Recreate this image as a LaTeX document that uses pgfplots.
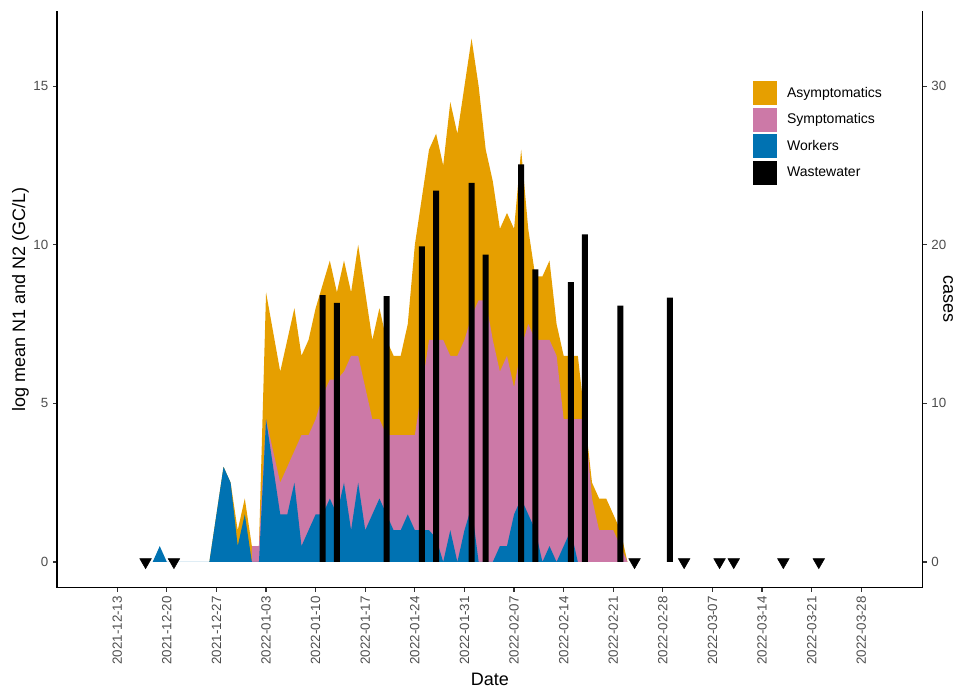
\documentclass[border=0pt]{standalone}
\usepackage{fontspec}
\setmainfont{Liberation Sans}
\usepackage{pgfplots}
\pgfplotsset{compat=1.18}
\definecolor{asym}{HTML}{E69F00}
\definecolor{symp}{HTML}{CC79A7}
\definecolor{work}{HTML}{0072B2}
\definecolor{grey30}{HTML}{4D4D4D}
\definecolor{grey20}{HTML}{333333}
\begin{document}
\begin{tikzpicture}
\path[use as bounding box] (0,0) rectangle (717.75pt,517.5pt);
\begin{axis}[
  at={(42.75pt,76.875pt)}, anchor=south west,
  scale only axis, width=649.3pt, height=432.4pt,
  xmin=-8.5, xmax=113.67, ymin=-0.805, ymax=17.37,
  axis x line*=bottom, axis y line*=left,
  axis line style={-, black, line width=0.9pt},
  tick align=outside, major tick length=3pt,
  tick style={grey20, line width=0.9pt},
  xtick={0,7,...,105},
  xticklabels={2021-12-13,2021-12-20,2021-12-27,2022-01-03,2022-01-10,2022-01-17,2022-01-24,2022-01-31,2022-02-07,2022-02-14,2022-02-21,2022-02-28,2022-03-07,2022-03-14,2022-03-21,2022-03-28},
  xticklabel style={rotate=90, anchor=east},
  ytick={0,5,10,15},
  /pgf/number format/assume math mode=true,
  tick label style={font=\fontsize{10}{12}\selectfont, text=grey30},
  xlabel={Date}, ylabel={log mean N1 and N2 (GC/L)},
  ylabel shift=-3.5pt,
  label style={font=\fontsize{13.5}{16}\selectfont},
  legend cell align=left,
  legend style={at={(rel axis cs:0.804,0.8786)}, anchor=north west, draw=none, fill=none,
    inner sep=0pt, outer sep=0pt, row sep=2pt, font=\fontsize{10.5}{12}\selectfont,
    nodes={inner sep=0pt}, /tikz/every odd column/.append style={column sep=7.5pt}},
  legend image code/.code={\fill[#1] (0pt,-9pt) rectangle (18pt,9pt);},
]
% Asymptomatics (stack total)
\addplot[fill=asym, draw=none] coordinates {
(13,0) (14,1.5) (15,3) (16,2.5) (17,1) (18,2) (19,0.5) (20,0.5) (21,8.5) (22,7.25) (23,6) (24,7) (25,8) (26,6.5) (27,7) (28,8) (29,8.75) (30,9.5) (31,8.5) (32,9.5) (33,8.5) (34,10) (35,8.5) (36,7) (37,8) (38,7) (39,6.5) (40,6.5) (41,7.5) (42,10) (43,11.5) (44,13) (45,13.5) (46,12.5) (47,14.5) (48,13.5) (49,15) (50,16.5) (51,15) (52,13) (53,12) (54,10.5) (55,11) (56,10.5) (57,13) (58,10.5) (59,9) (60,9) (61,9.5) (62,7.5) (63,6.5) (64,6.5) (65,6.5) (66,4.5) (67,2.5) (68,2) (69,2) (70,1.5) (71,1) (72,0)
} -- cycle;
\addlegendentry{Asymptomatics}
% Symptomatics (top of workers + symptomatics)
\addplot[fill=symp, draw=none] coordinates {
(19,0) (19,0.5) (20,0.5) (21,4.5) (22,3.5) (23,2.5) (24,3) (25,3.5) (26,4) (27,4) (28,4.5) (29,5.25) (30,5.75) (31,5.75) (32,6) (33,6.5) (34,6.5) (35,5.5) (36,4.5) (37,4.5) (38,4) (39,4) (40,4) (41,4) (42,4) (43,5.5) (44,7) (45,7) (46,7) (47,6.5) (48,6.5) (49,7) (50,7.75) (51,8.25) (52,8.25) (53,7) (54,6) (55,6.5) (56,5.5) (57,6.75) (58,7.5) (59,7) (60,7) (61,7) (62,6.5) (63,4.5) (64,4.5) (65,4.5) (66,4.5) (67,2) (68,1) (69,1) (70,1) (71,0.5) (72,0)
} -- cycle;
\addlegendentry{Symptomatics}
% Workers
\addplot[fill=work, draw=none] coordinates {
(5,0) (6,0.5) (7,0) (13,0) (14,1.5) (15,3) (16,2.5) (17,0.5) (18,1.5) (19,0) (20,0) (21,4.5) (22,3) (23,1.5) (24,1.5) (25,2.5) (26,0.5) (27,1) (28,1.5) (29,1.5) (30,2) (31,1.5) (32,2.5) (33,1) (34,2.5) (35,1) (36,1.5) (37,2) (38,1.5) (39,1) (40,1) (41,1.5) (42,1) (43,1) (44,1) (45,0.75) (46,0) (47,1) (48,0) (49,1) (50,1.75) (51,0) (52,0) (53,0) (54,0.5) (55,0.5) (56,1.5) (57,2) (58,1.5) (59,1) (60,0) (61,0.5) (62,0) (63,0.5) (64,1) (65,0)
} -- cycle;
\addlegendentry{Workers}
% Wastewater
\addplot[ybar, bar width=4.5pt, bar shift=0pt, fill=black, draw=none,
  legend image code/.code={\fill[black] (0pt,-9pt) rectangle (18pt,9pt);}] coordinates {
(29,8.41) (31,8.17) (38,8.38) (43,9.95) (45,11.71) (50,11.95) (52,9.69) (57,12.53) (59,9.22) (64,8.82) (66,10.33) (71,8.08) (78,8.33)
};
\addlegendentry{Wastewater}
\addplot[only marks, mark=triangle*, mark size=5pt, mark options={rotate=180, fill=black, draw=black}, forget plot] coordinates {
(4,0) (8,0) (73,0) (80,0) (85,0) (87,0) (94,0) (99,0)
};
\end{axis}
\begin{axis}[
  at={(42.75pt,76.875pt)}, anchor=south west,
  scale only axis, width=649.3pt, height=432.4pt,
  xmin=-8.5, xmax=113.67, ymin=-1.61, ymax=34.74,
  axis x line=none, axis y line*=right,
  axis line style={-, black, line width=0.9pt},
  tick align=outside, major tick length=3pt,
  tick style={grey20, line width=0.9pt},
  xtick=\empty, ytick={0,10,20,30},
  /pgf/number format/assume math mode=true,
  tick label style={font=\fontsize{10}{12}\selectfont, text=grey30},
  ylabel={cases},
  every axis y label/.style={at={(rel axis cs:1,0.5)}, xshift=19pt, rotate=-90, anchor=center},
  label style={font=\fontsize{13.5}{16}\selectfont},
]
\end{axis}
\end{tikzpicture}
\end{document}
